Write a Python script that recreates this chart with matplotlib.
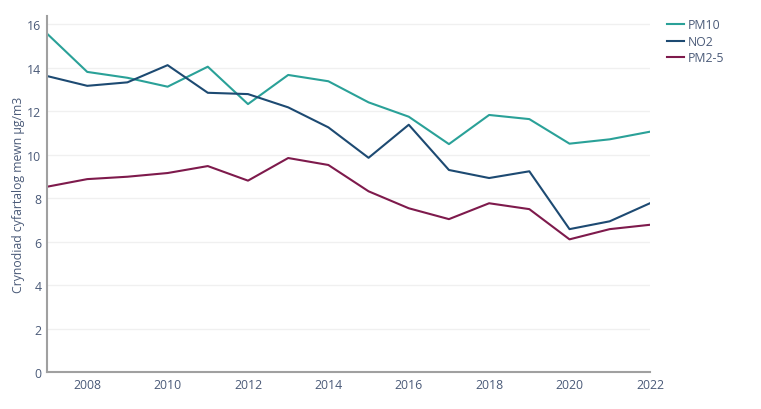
import matplotlib
matplotlib.use("Agg")
import matplotlib.pyplot as plt

# data
years = list(range(2007, 2023))
pm10 = [15.56, 13.80, 13.53, 13.12, 14.04, 12.32, 13.66, 13.37, 12.40, 11.74,
        10.48, 11.82, 11.63, 10.50, 10.70, 11.05]
no2 = [13.61, 13.16, 13.32, 14.11, 12.84, 12.78, 12.17, 11.25, 9.85, 11.37,
       9.29, 8.92, 9.23, 6.57, 6.93, 7.76]
pm25 = [8.52, 8.87, 8.98, 9.15, 9.47, 8.80, 9.84, 9.52, 8.31, 7.53,
        7.03, 7.76, 7.49, 6.10, 6.57, 6.77]
series_names = ["PM10", "NO2", "PM2-5"]
colours = ["#2aa198", "#1d4a72", "#7e1a4c"]
yticks = [0, 2, 4, 6, 8, 10, 12, 14, 16]
xticks = [2008, 2010, 2012, 2014, 2016, 2018, 2020, 2022]

text_col = "#4a5a78"
plt.rcParams["font.family"] = ["Open Sans", "DejaVu Sans"]

fig = plt.figure(figsize=(7.61, 4.10), dpi=100)
ax = fig.add_axes([0.0618, 0.0902, 0.7922, 0.8683])

for vals, name, c in zip([pm10, no2, pm25], series_names, colours):
    ax.plot(years, vals, color=c, lw=1.5, label=name)

ax.set_xlim(2007, 2022)
ax.set_ylim(0, 16.37)
ax.set_yticks(yticks)
ax.set_xticks(xticks)
ax.grid(axis="y", color="#f0f0f0", lw=1)
ax.set_axisbelow(True)
for s in ["top", "right"]:
    ax.spines[s].set_visible(False)
for s in ["left", "bottom"]:
    ax.spines[s].set_color("#a0a0a0")
    ax.spines[s].set_linewidth(1.5)
ax.tick_params(length=0, labelsize=8.8, colors=text_col, pad=4)
ax.set_ylabel("Crynodiad cyfartalog mewn µg/m3", fontsize=8.8, color=text_col)
ax.yaxis.set_label_coords(-0.037, 0.5)

leg = ax.legend(loc="upper left", bbox_to_anchor=(1.01, 1.025), frameon=False,
                fontsize=8.8, handlelength=1.4, handletextpad=0.3, labelspacing=0.3)
for t in leg.get_texts():
    t.set_color(text_col)

fig.savefig("out.png", dpi=100)
